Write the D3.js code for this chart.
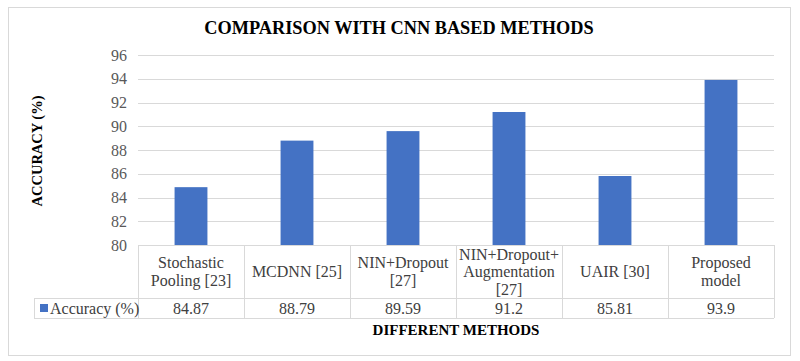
<!DOCTYPE html>
<html>
<head>
<meta charset="utf-8">
<script src="https://cdn.jsdelivr.net/npm/d3@7"></script>
<style>
  html, body { margin: 0; padding: 0; background: #fff; }
  svg { display: block; }
</style>
</head>
<body>
<svg id="chart" width="800" height="361"></svg>
<script>
const categories = [
  ["Stochastic", "Pooling [23]"],
  ["MCDNN [25]"],
  ["NIN+Dropout", "[27]"],
  ["NIN+Dropout+", "Augmentation", "[27]"],
  ["UAIR [30]"],
  ["Proposed", "model"]
];
const categoryKeys = ["Stochastic Pooling [23]", "MCDNN [25]", "NIN+Dropout [27]", "NIN+Dropout+Augmentation [27]", "UAIR [30]", "Proposed model"];
const accuracy = [84.87, 88.79, 89.59, 91.2, 85.81, 93.9];
const valueLabels = ["84.87", "88.79", "89.59", "91.2", "85.81", "93.9"];
const yTicks = [80, 82, 84, 86, 88, 90, 92, 94, 96];
const seriesName = "Accuracy (%)";
const chartTitle = "COMPARISON WITH CNN BASED METHODS";
const xTitle = "DIFFERENT METHODS";
const yTitle = "ACCURACY (%)";

(function () {
const FONT = "'Liberation Serif', Tinos, 'Times New Roman', Times, 'DejaVu Serif', serif";
const svg = d3.select("#chart").attr("font-family", FONT);
const plotLeft = 138, plotRight = 774, plotTop = 55, base = 245;
const catRowBottom = 298, valRowBottom = 318, legendLeft = 34;
const barColor = "#4472C4";
const gridColor = "#d9d9d9";
const textColor = "#404040";

// outer border
svg.append("rect").attr("x", 8.5).attr("y", 7.5).attr("width", 782).attr("height", 348)
  .attr("fill", "#fff").attr("stroke", "#d9d9d9").attr("stroke-width", 1);

const x = d3.scaleBand().domain(categoryKeys).range([plotLeft, plotRight]).paddingInner(0.69).paddingOuter(0.345);
const xCol = d3.scaleBand().domain(categoryKeys).range([plotLeft, plotRight]);
const y = d3.scaleLinear().domain([80, 96]).range([base, plotTop]);

// gridlines
svg.append("g").selectAll("line").data(yTicks.filter(t => t > 80)).join("line")
  .attr("x1", plotLeft).attr("x2", plotRight)
  .attr("y1", d => Math.round(y(d)) + 0.5).attr("y2", d => Math.round(y(d)) + 0.5)
  .attr("stroke", gridColor).attr("stroke-width", 1);

// y axis labels
const yAxis = d3.axisLeft(y).tickValues(yTicks).tickSize(0).tickPadding(11).tickFormat(d3.format("d"));
const gy = svg.append("g").attr("transform", `translate(${plotLeft},0)`).call(yAxis);
gy.attr("font-family", FONT).attr("font-size", 16);
gy.select(".domain").remove();
gy.selectAll("text").attr("fill", "#595959");

// bars
svg.append("g").selectAll("rect").data(accuracy).join("rect")
  .attr("x", (d, i) => x(categoryKeys[i]))
  .attr("width", x.bandwidth())
  .attr("y", d => y(d))
  .attr("height", d => y(80) - y(d))
  .attr("fill", barColor);

// data table
const tg = svg.append("g").attr("stroke", gridColor).attr("stroke-width", 1);
tg.append("line").attr("x1", plotLeft).attr("x2", plotRight).attr("y1", base + 0.5).attr("y2", base + 0.5);
tg.append("line").attr("x1", legendLeft).attr("x2", plotRight).attr("y1", catRowBottom + 0.5).attr("y2", catRowBottom + 0.5);
tg.append("line").attr("x1", legendLeft).attr("x2", plotRight).attr("y1", valRowBottom + 0.5).attr("y2", valRowBottom + 0.5);
tg.append("line").attr("x1", legendLeft + 0.5).attr("x2", legendLeft + 0.5).attr("y1", catRowBottom).attr("y2", valRowBottom);
const colEdges = categoryKeys.map(k => xCol(k)).concat([plotRight]);
tg.selectAll("line.col").data(colEdges).join("line").attr("class", "col")
  .attr("x1", d => Math.round(d) + 0.5).attr("x2", d => Math.round(d) + 0.5)
  .attr("y1", base).attr("y2", valRowBottom);

// category labels
const lineH = 17.5;
const catG = svg.append("g");
categories.forEach((lines, i) => {
  const cx = xCol(categoryKeys[i]) + xCol.bandwidth() / 2;
  const cy = (base + catRowBottom) / 2;
  const t = catG.append("text").attr("text-anchor", "middle").attr("font-size", 16).attr("fill", textColor);
  lines.forEach((ln, j) => {
    t.append("tspan").attr("x", cx)
      .attr("y", cy + (j - (lines.length - 1) / 2) * lineH + 5.5)
      .text(ln);
  });
});

// value row
svg.append("g").selectAll("text").data(valueLabels).join("text")
  .attr("x", (d, i) => xCol(categoryKeys[i]) + xCol.bandwidth() / 2)
  .attr("y", (catRowBottom + valRowBottom) / 2 + 5.5)
  .attr("text-anchor", "middle").attr("font-size", 16).attr("fill", textColor)
  .text(d => d);

// legend key in table
svg.append("rect").attr("x", 40).attr("y", 304).attr("width", 8).attr("height", 8).attr("fill", barColor);
svg.append("text").attr("x", 50).attr("y", (catRowBottom + valRowBottom) / 2 + 5.5)
  .attr("font-size", 16).attr("fill", textColor).text(seriesName);

// titles
svg.append("text").attr("x", 399).attr("y", 34).attr("text-anchor", "middle")
  .attr("font-size", 18.3).attr("font-weight", "bold").attr("fill", "#000").text(chartTitle);
svg.append("text").attr("x", 456).attr("y", 335).attr("text-anchor", "middle")
  .attr("font-size", 15).attr("font-weight", "bold").attr("fill", "#000").text(xTitle);
svg.append("text").attr("transform", "translate(42,151) rotate(-90)").attr("text-anchor", "middle")
  .attr("font-size", 14.5).attr("font-weight", "bold").attr("fill", "#000").text(yTitle);
})();
</script>
</body>
</html>
